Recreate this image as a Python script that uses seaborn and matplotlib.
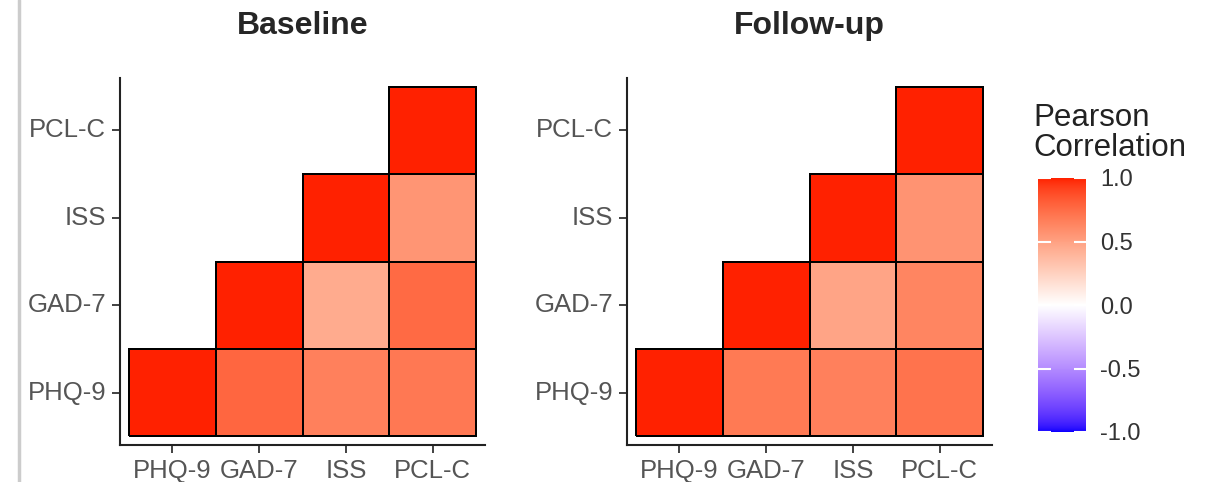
import numpy as np
import pandas as pd
import matplotlib
matplotlib.use("Agg")
import matplotlib.pyplot as plt
import seaborn as sns
from matplotlib.colors import ListedColormap
from matplotlib.lines import Line2D

# scales and correlation values (upper triangle, row -> col)
scales = ["PHQ-9", "GAD-7", "ISS", "PCL-C"]
baseline_r = [
    [1.00, 0.78, 0.66, 0.70],
    [np.nan, 1.00, 0.45, 0.76],
    [np.nan, np.nan, 1.00, 0.56],
    [np.nan, np.nan, np.nan, 1.00],
]
followup_r = [
    [1.00, 0.69, 0.66, 0.72],
    [np.nan, 1.00, 0.48, 0.64],
    [np.nan, np.nan, 1.00, 0.57],
    [np.nan, np.nan, np.nan, 1.00],
]
titles = ["Baseline", "Follow-up"]
cbar_ticks = [-1.0, -0.5, 0.0, 0.5, 1.0]


# blue-white-red gradient interpolated in Lab space (like ggplot's gradient2)
WHITE_PT = np.array([0.95047, 1.0, 1.08883])
M = np.array([[0.4124, 0.3576, 0.1805], [0.2126, 0.7152, 0.0722], [0.0193, 0.1192, 0.9505]])


def to_lab(rgb):
    c = np.where(rgb <= 0.04045, rgb / 12.92, ((rgb + 0.055) / 1.055) ** 2.4)
    t = (M @ c) / WHITE_PT
    f = np.where(t > 0.008856, np.cbrt(t), 7.787 * t + 16 / 116)
    return np.array([116 * f[1] - 16, 500 * (f[0] - f[1]), 200 * (f[1] - f[2])])


def from_lab(lab):
    fy = (lab[0] + 16) / 116
    f = np.array([fy + lab[1] / 500, fy, fy - lab[2] / 200])
    t = np.where(f ** 3 > 0.008856, f ** 3, (f - 16 / 116) / 7.787) * WHITE_PT
    c = np.linalg.solve(M, t)
    c = np.where(c <= 0.0031308, 12.92 * c, 1.055 * np.clip(c, 0, None) ** (1 / 2.4) - 0.055)
    return np.clip(c, 0, 1)


lo = to_lab(np.array([0.05, 0.0, 1.0]))
mid = to_lab(np.array([1.0, 1.0, 1.0]))
hi = to_lab(np.array([1.0, 0.13, 0.0]))
cols = []
for v in np.linspace(-1, 1, 256):
    if v < 0:
        lab = mid + (lo - mid) * (-v)
    else:
        lab = mid + (hi - mid) * v
    cols.append(from_lab(lab))
cmap = ListedColormap(cols)

sns.set_style("white")
plt.rcParams["font.family"] = ["Liberation Sans", "DejaVu Sans"]

fig = plt.figure(figsize=(12.12, 4.82), dpi=100)
ax_pos = [[120 / 1212, 37 / 482, 365 / 1212, 367 / 482],
          [627 / 1212, 37 / 482, 365 / 1212, 367 / 482]]
cax = fig.add_axes([1038 / 1212, 50 / 482, 48 / 1212, 254 / 482])

for i, (vals, title) in enumerate(zip([baseline_r, followup_r], titles)):
    ax = fig.add_axes(ax_pos[i])
    df = pd.DataFrame(vals, index=scales, columns=scales)
    mask = df.isna()
    sns.heatmap(df, mask=mask, cmap=cmap, vmin=-1, vmax=1, ax=ax,
                linewidths=1.3, linecolor="black", square=False,
                cbar=(i == 1), cbar_ax=cax if i == 1 else None,
                cbar_kws={"ticks": cbar_ticks} if i == 1 else None)
    # no outline on the hidden (masked) cells
    mesh = ax.collections[0]
    flat_mask = mask.values.ravel()
    edge = [(0, 0, 0, 0) if m else (0, 0, 0, 1) for m in flat_mask]
    mesh.set_edgecolors(edge)
    ax.set_xlim(-0.1, 4.1)
    ax.set_ylim(-0.1, 4.1)
    ax.set_xlabel("")
    ax.set_ylabel("")
    ax.set_title(title, fontsize=23, fontweight="bold", pad=32)
    for s in ["top", "right"]:
        ax.spines[s].set_visible(False)
    for s in ["left", "bottom"]:
        ax.spines[s].set_visible(True)
        ax.spines[s].set_color("#222222")
        ax.spines[s].set_linewidth(1.5)
    ax.tick_params(axis="both", direction="out", length=6, width=1.3,
                   color="#333333", labelcolor="#555555", labelsize=18.5,
                   bottom=True, left=True, pad=4)
    ax.set_yticklabels(scales, rotation=0)
    ax.set_xticklabels(scales, rotation=0)

cb = cax.collections[0].colorbar if cax.collections else None
cax.set_axisbelow(False)
cax.tick_params(axis="y", direction="in", length=9, width=1.5, color="white",
                left=True, right=True, labelleft=False, labelright=True,
                labelsize=17, labelcolor="#333333", pad=10)
cax.set_yticklabels([f"{t:.1f}" for t in cbar_ticks])
for s in cax.spines.values():
    s.set_visible(False)
if cb is not None:
    cb.outline.set_visible(False)
fig.text(1033 / 1212, 1 - 163 / 482, "Pearson\nCorrelation", fontsize=22.5,
         color="#222222", ha="left", va="bottom", linespacing=1.0)

# thin grey line at the left edge of the screenshot
fig.add_artist(Line2D([19 / 1212, 19 / 1212], [0, 1], color="#CCCCCC", lw=2.5,
                      transform=fig.transFigure))

fig.savefig("out.png", dpi=100, facecolor="white")
